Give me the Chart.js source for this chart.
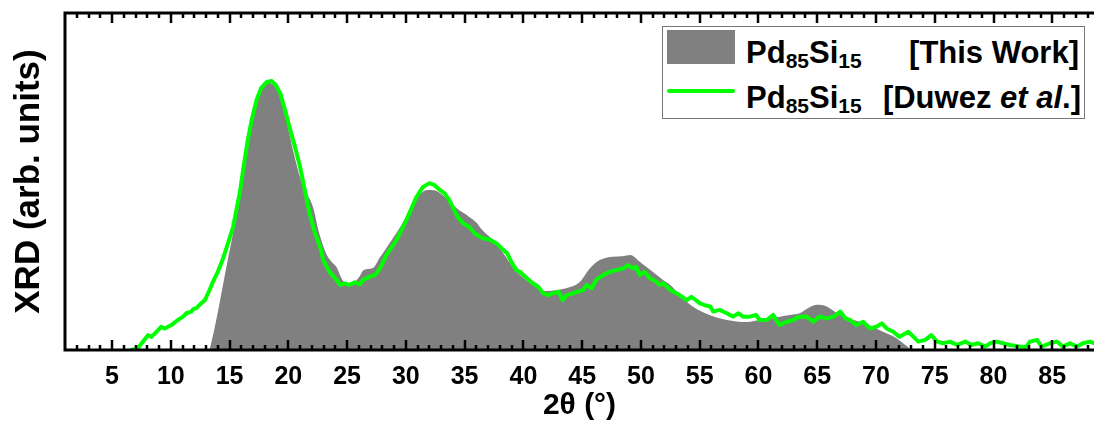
<!DOCTYPE html>
<html>
<head>
<meta charset="utf-8">
<script src="https://cdn.jsdelivr.net/npm/chart.js@4/dist/chart.umd.min.js"></script>
<style>
  html, body { margin: 0; padding: 0; background: #fff; overflow: hidden; }
  #wrap { position: relative; width: 1094px; height: 424px; }
  #legend {
    position: absolute; left: 662px; top: 26px; width: 421px; height: 91px;
    border: 1.5px solid #777; background: #fff;
    font-family: "Liberation Sans", Arial, sans-serif; font-weight: bold; color: #000;
  }
  #legend .swatch { position: absolute; left: 4px; top: 3px; width: 68px; height: 34px; background: #808080; }
  #legend .line { position: absolute; left: 4px; top: 62px; width: 68px; height: 4px; background: #00ff00; border-radius: 2px; }
  #legend .txt { position: absolute; font-size: 31px; line-height: 31px; white-space: nowrap; }
  #legend sub { font-size: 21px; vertical-align: -5px; line-height: 0; }
</style>
</head>
<body>
<div id="wrap">
  <canvas id="grafico" width="1094" height="424"></canvas>
  <div id="legend">
    <div class="swatch"></div>
    <div class="line"></div>
    <span class="txt" style="left:83px; top:10px;">Pd<sub>85</sub>Si<sub>15</sub></span>
    <span class="txt" style="right:5px; top:10px;">[This Work]</span>
    <span class="txt" style="left:83px; top:55px;">Pd<sub>85</sub>Si<sub>15</sub></span>
    <span class="txt" style="right:3px; top:55px;">[Duwez <i>et al</i>.]</span>
  </div>
</div>
<script>
// Pd85Si15 (this work) - smooth gray profile
const grayX = [13.3, 13.7, 14.2, 14.75, 15.3, 15.9, 16.45, 16.9, 17.3, 17.8, 18.3, 18.8, 19.3, 19.85, 20.4, 21.2, 22.1, 22.6, 23.2, 23.6,
  24.1, 24.6, 25.0, 25.5, 26.0, 26.4, 27.2, 27.8, 28.4, 29.2, 30.0, 30.6, 31.2, 31.8, 32.4, 32.9, 33.6, 34.3, 35.4, 36.0,
  36.5, 37.7, 38.4, 39.1, 39.8, 40.55, 41.3, 42.0, 42.8, 43.7, 44.8, 45.65, 46.5, 47.6, 48.4, 49.1, 49.9, 51.0, 51.8, 52.5,
  53.4, 54.4, 55.9, 57.3, 59.0, 60.1, 61.0, 61.8, 62.7, 63.5, 64.1, 64.95, 65.8, 66.7, 67.5, 68.6, 69.5, 70.6, 71.75, 72.3,
  72.7, 73.0];
const grayY = [0, 6, 14.8, 25, 34.7, 47, 59.3, 68, 74.2, 78, 79.2, 78.5, 75.5, 68, 59.3, 49, 42.4, 35, 28.8, 26.5,
  24.6, 20.8, 19.9, 19.9, 21.5, 23.7, 24.3, 27.5, 30.6, 34.7, 39.5, 43.6, 46.2, 47.5, 47.4, 46.6, 44.5, 42.1, 39.5, 37.8,
  35.6, 31.7, 28.2, 24.6, 22.0, 19.9, 18.2, 17.5, 17.8, 18.4, 20.2, 24.2, 26.7, 27.7, 27.8, 28.2, 26.2, 23.2, 21.0, 19.3,
  16.0, 12.9, 10.3, 8.9, 8.3, 8.9, 9.3, 9.9, 10.4, 10.9, 12.2, 13.4, 12.9, 10.9, 9.6, 8.4, 7.2, 5.4, 3.5, 2.0,
  1.0, 0];

// Pd85Si15 (Duwez et al.) - noisy green trace
const greenX = [6.65, 7.2, 7.64, 8.06, 8.35, 8.78, 9.2, 9.49, 10.05, 10.6, 11.05, 11.33, 11.76, 11.9, 12.18, 12.6, 12.9, 13.3, 13.6, 14.0,
  14.4, 14.85, 15.3, 15.87, 16.2, 16.55, 16.9, 17.3, 17.7, 18.15, 18.6, 18.95, 19.3, 19.7, 20.1, 20.55, 21.0, 21.4, 21.8, 22.25,
  22.7, 23.0, 23.5, 24.1, 24.4, 24.8, 25.2, 25.65, 26.1, 26.36, 26.9, 27.4, 27.8, 28.35, 29.2, 30.05, 30.9, 31.46, 32.0, 32.4,
  32.9, 33.3, 33.7, 34.05, 34.4, 34.9, 35.4, 35.9, 36.5, 37.1, 37.7, 38.2, 38.6, 39.0, 39.4, 39.7, 40.3, 40.8, 41.25, 41.7,
  42.1, 42.5, 43.0, 43.33, 43.7, 44.2, 44.66, 45.1, 45.37, 45.8, 46.2, 46.8, 47.36, 47.9, 48.5, 48.9, 49.34, 49.6, 49.9, 50.3,
  50.76, 51.3, 51.6, 51.9, 52.5, 53.3, 53.9, 54.3, 55.0, 55.5, 55.9, 56.15, 56.7, 57.3, 57.85, 58.3, 58.7, 59.27, 59.8, 60.1,
  60.7, 61.25, 61.8, 62.4, 62.96, 63.5, 64.1, 64.66, 65.2, 65.8, 66.4, 66.96, 67.4, 67.8, 68.35, 68.9, 69.5, 70.04, 70.5, 70.9,
  71.47, 72.0, 72.75, 73.2, 73.6, 74.2, 74.7, 75.2, 75.7, 76.3, 76.9, 77.6, 78.1, 78.7, 79.3, 79.7, 80.26, 80.8, 81.4, 82.3,
  82.8, 83.1, 83.7, 84.1, 84.8, 85.4, 85.9, 86.5, 87.1, 87.6, 88.2, 88.6];
const greenY = [0, 0.5, 2.5, 4.4, 3.9, 5.4, 6.9, 6.4, 7.4, 8.9, 9.9, 10.9, 11.4, 12.1, 12.4, 13.9, 14.8, 17.8, 20.3, 23.2,
  26.7, 31.5, 36.5, 46.6, 54.5, 62.3, 68.5, 74.2, 77.8, 79.5, 79.8, 78.5, 76.3, 71.5, 66.2, 60.5, 54.3, 47.5, 40.6, 35.0,
  30.6, 26.5, 23.2, 20.8, 19.3, 19.8, 19.3, 20.1, 19.5, 20.8, 21.7, 22.3, 24.2, 28.2, 32.6, 38.6, 45.4, 48.4, 49.5, 49.0,
  47.5, 46.5, 44.5, 42.0, 39.5, 37.5, 36.5, 34.5, 33.2, 32.8, 31.7, 30.0, 28.8, 26.0, 23.7, 23.2, 21.3, 19.8, 18.8, 16.8,
  16.3, 16.8, 17.3, 14.8, 16.3, 16.8, 17.3, 17.8, 19.3, 18.3, 20.8, 22.3, 23.2, 23.7, 24.2, 25.2, 24.2, 24.7, 22.3, 23.2,
  21.3, 20.3, 19.3, 19.8, 17.8, 16.3, 14.8, 15.8, 13.9, 13.2, 12.9, 11.4, 11.9, 10.9, 9.9, 10.9, 9.9, 9.9, 10.4, 8.9,
  8.9, 10.4, 7.4, 8.4, 8.9, 9.9, 9.9, 8.4, 9.9, 9.4, 9.9, 11.4, 9.4, 8.9, 7.4, 8.4, 6.4, 6.9, 7.9, 6.4,
  5.4, 3.9, 5.4, 3.9, 2.5, 3.0, 4.4, 2.5, 2.0, 2.5, 1.5, 2.5, 1.5, 2.0, 1.0, 2.0, 2.5, 2.0, 1.5, 1.0,
  1.0, 2.5, 3.0, 1.0, 2.0, 2.5, 1.0, 2.0, 1.0, 2.0, 2.5, 2.0];

const xTicks = [5, 10, 15, 20, 25, 30, 35, 40, 45, 50, 55, 60, 65, 70, 75, 80, 85];
const xMin = 1;
const xMax = 88.55;

const toPoints = (xs, ys) => xs.map((x, i) => ({ x, y: ys[i] }));

// frame + inward ticks (bottom and top), drawn over the data like the original
const framePlugin = {
  id: 'frame',
  afterDraw(chart) {
    const { ctx, chartArea } = chart;
    const sx = chart.scales.x;
    ctx.save();
    ctx.strokeStyle = '#000';
    ctx.lineWidth = 3;
    ctx.beginPath();
    ctx.moveTo(chartArea.left, chartArea.top);
    ctx.lineTo(chartArea.right, chartArea.top);
    ctx.moveTo(chartArea.left, chartArea.top - 1.5);
    ctx.lineTo(chartArea.left, chartArea.bottom + 1.5);
    ctx.moveTo(chartArea.left, chartArea.bottom);
    ctx.lineTo(chartArea.right, chartArea.bottom);
    ctx.stroke();

    ctx.lineWidth = 2.5;
    ctx.beginPath();
    for (let v = Math.ceil(xMin); v <= xMax; v++) {
      const px = Math.round(sx.getPixelForValue(v));
      if (px <= chartArea.left + 2) continue;
      const len = v % 5 === 0 ? 10 : 5;
      ctx.moveTo(px, chartArea.bottom);
      ctx.lineTo(px, chartArea.bottom - len);
      ctx.moveTo(px, chartArea.top);
      ctx.lineTo(px, chartArea.top + len);
    }
    ctx.stroke();
    ctx.restore();
  }
};

Chart.defaults.font.family = '"Liberation Sans", Arial, sans-serif';
Chart.defaults.color = '#000';

const ctx = document.getElementById('grafico').getContext('2d');
new Chart(ctx, {
  type: 'line',
  data: {
    datasets: [
      {
        label: 'Pd85Si15 [Duwez et al.]',
        data: toPoints(greenX, greenY),
        borderColor: '#00ff00',
        borderWidth: 4,
        borderJoinStyle: 'round',
        borderCapStyle: 'round',
        pointRadius: 0,
        fill: false,
        tension: 0,
        order: 0
      },
      {
        label: 'Pd85Si15 [This Work]',
        data: toPoints(grayX, grayY),
        borderColor: '#808080',
        borderWidth: 0,
        backgroundColor: '#808080',
        pointRadius: 0,
        fill: 'origin',
        cubicInterpolationMode: 'monotone',
        order: 1
      }
    ]
  },
  options: {
    responsive: false,
    animation: false,
    layout: { padding: { top: 13, right: 0, left: 0, bottom: 0 } },
    plugins: { legend: { display: false }, tooltip: { enabled: false } },
    scales: {
      x: {
        type: 'linear',
        min: xMin,
        max: xMax,
        grid: { display: false, drawTicks: false },
        border: { display: false },
        afterBuildTicks: scale => { scale.ticks = xTicks.map(v => ({ value: v })); },
        afterFit: scale => { scale.height = 74; },
        ticks: {
          autoSkip: false,
          maxRotation: 0,
          padding: 12,
          color: '#000',
          font: { size: 25, weight: 'bold' }
        },
        title: {
          display: true,
          text: '2θ (°)',
          color: '#000',
          padding: 0,
          font: { size: 30, weight: 'bold' }
        }
      },
      y: {
        min: 0,
        max: 100,
        grid: { display: false, drawTicks: false },
        border: { display: false },
        ticks: { display: false },
        afterFit: scale => { scale.width = 65; },
        title: {
          display: true,
          text: 'XRD (arb. units)',
          color: '#000',
          padding: { top: 8, bottom: 0 },
          font: { size: 35, weight: 'bold' }
        }
      }
    }
  },
  plugins: [framePlugin]
});
</script>
</body>
</html>
